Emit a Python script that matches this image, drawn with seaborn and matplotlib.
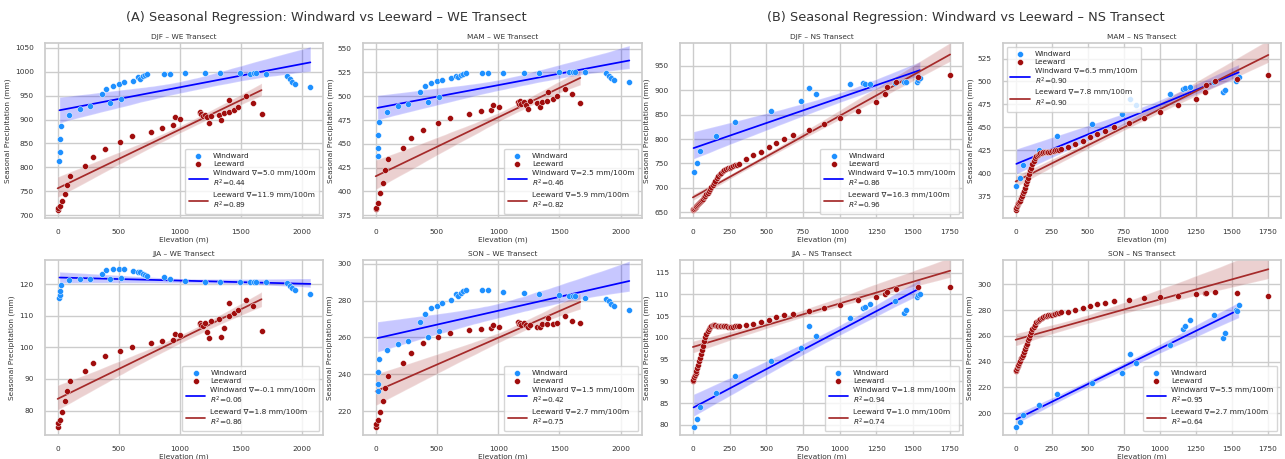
import numpy as np
import pandas as pd
import matplotlib
matplotlib.use("Agg")
import matplotlib.pyplot as plt
from matplotlib.collections import PolyCollection
import seaborn as sns

sns.set_theme(style="whitegrid")
plt.rcParams['font.family'] = ['DejaVu Sans']

seasons = ["DJF", "MAM", "JJA", "SON"]

# ---------------- WE transect ----------------
we_wind_elev = [15, 18, 22, 30, 95, 180, 265, 360, 400, 425, 455, 500, 520, 540, 615, 655, 675, 700, 715, 735,
                870, 920, 1040, 1210, 1330, 1495, 1575, 1610, 1625, 1710, 1880, 1905, 1920, 1945, 2070]
we_wind_djf = [813, 833, 859, 886, 909, 923, 928, 953, 963, 934, 970, 974, 942, 978, 981, 988, 985, 990, 993, 995,
               996, 996, 998, 998, 998, 998, 996, 998, 998, 995, 991, 984, 979, 974, 967]
we_wind_mam = [437, 446, 459, 472.5, 483, 489.3, 492.1, 504.5, 510.3, 494.4, 513.8, 515.6, 499.5, 517.3, 519.4,
               521.5, 519.8, 522.2, 523.6, 524.3, 524.6, 524.6, 524.6, 524.6, 524.6, 525.7, 525.7, 525.7, 525.7,
               525, 524.3, 521.5, 519.4, 517.3, 514.5]
we_wind_jja = [115.7, 116.5, 117.8, 119.7, 121.3, 121.7, 121.6, 123.3, 124.5, 121.5, 124.8, 124.8, 122.0, 124.6,
               124.2, 123.9, 123.7, 123.3, 122.9, 122.6, 122.1, 121.6, 120.9, 120.7, 120.5, 120.5, 120.5, 120.5,
               120.5, 120.5, 120.2, 119.5, 118.8, 118.0, 117.0]
we_wind_son = [231, 234.5, 241, 248, 253.4, 256.5, 258, 268.5, 272.8, 260, 275.7, 277.1, 263.6, 278.6, 280.4,
               283.4, 282.5, 284, 285.2, 285.6, 285.9, 285.6, 284.7, 284, 283.4, 283.1, 282.5, 282.3, 282.7,
               281.4, 280.9, 279.6, 278.2, 277, 275]

we_lee_elev = [0, 5, 16, 35, 59, 76, 103, 227, 292, 384, 508, 608, 765, 857, 941, 959, 1003, 1162, 1170, 1176,
               1189, 1208, 1224, 1243, 1257, 1319, 1338, 1359, 1400, 1405, 1446, 1481, 1541, 1603, 1670]
we_lee_djf = [710, 715, 720, 730, 744, 763, 781, 802, 822, 839, 853, 865, 874, 882, 888, 906, 901, 913, 915, 911,
              908, 910, 906, 892, 908, 910, 898, 913, 915, 941, 920, 926, 950, 934, 912]
we_lee_mam = [381, 383, 388, 398, 409, 422, 434, 446, 456, 465, 472, 477, 481, 484, 486, 491, 489, 494, 492, 495,
              492, 494, 491, 487, 495, 493, 489, 494, 495, 505, 497, 500, 508, 502, 493]
we_lee_jja = [74.8, 76.0, 77.1, 79.7, 83.1, 86.3, 89.5, 92.5, 95.2, 97.3, 98.9, 100.2, 101.3, 102.0, 102.3, 104.3,
              103.8, 107.3, 107.6, 107.0, 106.6, 107.8, 105.0, 103.1, 108.4, 108.9, 103.4, 106.0, 110.0, 114.0,
              110.8, 111.8, 115.0, 113.0, 105.2]
we_lee_son = [211.6, 213.0, 215.2, 219.7, 225.7, 232.4, 239.2, 246.0, 251.7, 256.8, 260.0, 262.5, 264.0, 264.7,
              265.0, 266.7, 265.8, 268.5, 267.0, 268.0, 266.5, 268.0, 266.5, 265.6, 266.7, 265.4, 265.6, 267.2,
              267.5, 270.5, 267.2, 268.0, 271.7, 269.0, 267.6]

# ---------------- NS transect ----------------
ns_wind_elev = [5, 30, 52, 160, 285, 530, 740, 795, 837, 1070, 1160, 1175, 1210, 1380, 1437, 1456, 1528, 1537, 1548]
ns_wind_djf = [733, 750, 775, 806, 834, 858, 877, 904, 892, 912, 914, 912, 912, 915, 916, 917, 918, 921, 925]
ns_wind_mam = [386, 395, 409, 425, 441, 454, 465, 481, 474, 486, 492, 493, 494, 499, 489, 491, 500, 503, 505]
ns_wind_jja = [79.5, 81.4, 84.2, 87.3, 91.2, 94.6, 97.7, 102.8, 100.5, 104.5, 106.9, 107.2, 107.8, 108.5, 105.8,
               106.3, 109.3, 109.8, 110.2]
ns_wind_son = [189.6, 193.0, 198.4, 206.0, 214.5, 223.1, 231.0, 246.0, 239.0, 253.0, 265.0, 268.0, 272.0, 276.0,
               258.0, 262.0, 280.0, 279.0, 284.0]

ns_lee_elev = [0, 4, 9, 14, 19, 24, 30, 36, 42, 48, 55, 62, 69, 76, 84, 92, 100, 108, 116, 125, 134, 143, 152,
               162, 172, 182, 193, 204, 215, 227, 239, 251, 263, 276, 289, 302, 315,
               360, 413, 465, 517, 568, 620, 682, 789, 891, 1002, 1124, 1250, 1312, 1323, 1387, 1537, 1754]
ns_lee_djf = [655, 656, 657, 658, 660, 662, 664, 666, 668, 670, 672, 675, 678, 681, 684, 687, 690, 694, 698, 702,
              706, 710, 714, 720, 724, 728, 731, 734, 736, 738, 740, 741, 743, 744, 746, 747, 749,
              759, 767, 774, 784, 791, 800, 809, 819, 830, 844, 858, 875, 892, 906, 918, 928, 932]
ns_lee_mam = [360, 362, 364, 366, 367, 369, 370, 373, 375, 378, 381, 384, 388, 391, 395, 399, 403, 406, 410, 413,
              416, 419, 420, 421, 421.5, 422, 422.5, 423, 423, 423.5, 423.5, 424, 424, 425, 425, 425.5, 426,
              429, 432, 435, 439, 443, 446, 450, 455, 460, 467, 474, 481, 489, 496, 501, 503, 507]
ns_lee_jja = [90.0, 90.4, 91.0, 91.5, 92.0, 92.5, 93.2, 93.8, 94.6, 95.3, 96.4, 97.3, 98.2, 99.2, 100.2, 100.9,
              101.5, 102.1, 102.5, 102.8, 102.9, 102.9, 102.9, 102.8, 102.8, 102.8, 102.7, 102.7, 102.7, 102.7,
              102.6, 102.6, 102.6, 102.6, 102.7, 102.7, 102.8,
              103.0, 103.3, 103.7, 104.2, 104.8, 105.2, 105.6, 106.2, 106.8, 107.6, 108.6, 109.5, 110.0, 110.5,
              111.3, 111.6, 111.6]
ns_lee_son = [232.5, 233.5, 235, 236.5, 237.5, 239, 240.5, 242.5, 244, 245.5, 247.5, 250, 252, 254, 256.5, 258.5,
              261, 263, 265, 267, 268.5, 270.5, 271.8, 272.5, 273.3, 274, 274.6, 275.1, 275.6, 276, 276.3, 276.6,
              276.9, 277.2, 277.6, 278, 278.4,
              278.5, 280.3, 281.8, 283.3, 284.6, 285.6, 286.9, 288.0, 289.2, 290.0, 291.3, 292.4, 293.0, 293.2,
              293.8, 293.0, 291.2]

# legend statistics (gradient mm/100m, R^2)
we_wind_grad = ["5.0", "2.5", "-0.1", "1.5"]
we_wind_r2 = ["0.44", "0.46", "0.06", "0.42"]
we_lee_grad = ["11.9", "5.9", "1.8", "2.7"]
we_lee_r2 = ["0.89", "0.82", "0.86", "0.75"]
ns_wind_grad = ["10.5", "6.5", "1.8", "5.5"]
ns_wind_r2 = ["0.86", "0.90", "0.94", "0.95"]
ns_lee_grad = ["16.3", "7.8", "1.0", "2.7"]
ns_lee_r2 = ["0.96", "0.90", "0.74", "0.64"]

group_titles = ["(A) Seasonal Regression: Windward vs Leeward \u2013 WE Transect",
                "(B) Seasonal Regression: Windward vs Leeward \u2013 NS Transect"]

# y view ranges per panel (view setting, not data)
we_ylims = [(694, 1060), (372, 556), (72.3, 127.6), (207, 302)]
ns_ylims = [(638, 997), (351, 542), (77.7, 117.9), (183, 319)]

WIND_PT = "#1e90ff"
LEE_PT = "#a00d0d"
WIND_LN = "blue"
LEE_LN = "brown"
TXT = "#333333"
FS = 5.3

fig = plt.figure(figsize=(12.85, 4.59), dpi=100)
W, H = 1285.0, 459.0
col_px = [(45, 278), (363, 279), (680, 283), (1003, 278)]
row_px = [(43, 218), (260, 435)]

def make_ax(col, row):
    l, w = col_px[col]
    t, b = row_px[row]
    return fig.add_axes([l / W, 1 - b / H, w / W, (b - t) / H])

def panel(ax, ew, vw, el, vl, title, lab_w, lab_l, loc, ylim):
    dfw = pd.DataFrame({"x": ew, "y": vw})
    dfl = pd.DataFrame({"x": el, "y": vl})
    sns.scatterplot(data=dfw, x="x", y="y", ax=ax, color=WIND_PT, s=18, edgecolor="white",
                    linewidth=0.3, label="Windward", zorder=3)
    sns.scatterplot(data=dfl, x="x", y="y", ax=ax, color=LEE_PT, s=18, edgecolor="white",
                    linewidth=0.3, label="Leeward", zorder=3)
    sns.regplot(data=dfw, x="x", y="y", ax=ax, scatter=False, color=WIND_LN, seed=0,
                label=lab_w, line_kws={"lw": 1.25})
    sns.regplot(data=dfl, x="x", y="y", ax=ax, scatter=False, color=LEE_LN, seed=0,
                label=lab_l, line_kws={"lw": 1.25})
    for coll in ax.collections:
        if isinstance(coll, PolyCollection):
            coll.set_alpha(0.22)
    ax.set_ylim(*ylim)
    ax.set_title(title, fontsize=FS, pad=3, color=TXT)
    ax.set_xlabel("Elevation (m)", fontsize=FS, labelpad=1, color=TXT)
    ax.set_ylabel("Seasonal Precipitation (mm)", fontsize=FS, labelpad=3, color=TXT)
    ax.tick_params(labelsize=FS, pad=2, colors=TXT)
    ax.legend(loc=loc, fontsize=5.3, frameon=True, borderpad=0.5, labelspacing=0.35,
              handlelength=2.6, handletextpad=0.7)

we_w = [we_wind_djf, we_wind_mam, we_wind_jja, we_wind_son]
we_l = [we_lee_djf, we_lee_mam, we_lee_jja, we_lee_son]
ns_w = [ns_wind_djf, ns_wind_mam, ns_wind_jja, ns_wind_son]
ns_l = [ns_lee_djf, ns_lee_mam, ns_lee_jja, ns_lee_son]

for i, s in enumerate(seasons):
    row, c = divmod(i, 2)
    ax = make_ax(c, row)
    panel(ax, we_wind_elev, we_w[i], we_lee_elev, we_l[i], f"{s} \u2013 WE Transect",
          f"Windward \u2207={we_wind_grad[i]} mm/100m\n$R^2$={we_wind_r2[i]}",
          f"Leeward \u2207={we_lee_grad[i]} mm/100m\n$R^2$={we_lee_r2[i]}", "lower right", we_ylims[i])
    ax = make_ax(c + 2, row)
    panel(ax, ns_wind_elev, ns_w[i], ns_lee_elev, ns_l[i], f"{s} \u2013 NS Transect",
          f"Windward \u2207={ns_wind_grad[i]} mm/100m\n$R^2$={ns_wind_r2[i]}",
          f"Leeward \u2207={ns_lee_grad[i]} mm/100m\n$R^2$={ns_lee_r2[i]}",
          "upper left" if s == "MAM" else "lower right", ns_ylims[i])

fig.text(326 / W, 1 - 18 / H, group_titles[0], ha="center", va="center", fontsize=9.3, color=TXT)
fig.text(966 / W, 1 - 18 / H, group_titles[1], ha="center", va="center", fontsize=9.3, color=TXT)

fig.savefig("out.png", dpi=100)
